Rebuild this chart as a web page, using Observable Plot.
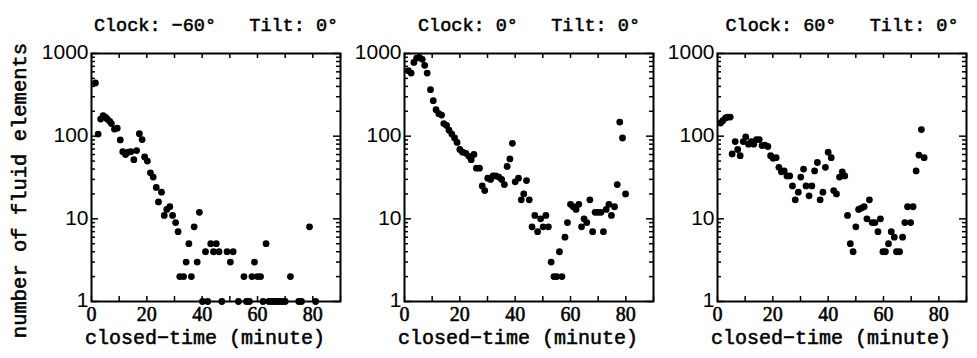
<!DOCTYPE html>
<html>
<head>
<meta charset="utf-8">
<script src="https://cdn.jsdelivr.net/npm/d3@7"></script>
<script src="https://cdn.jsdelivr.net/npm/@observablehq/plot@0.6"></script>
<style>
  html, body { margin: 0; padding: 0; background: #fff; }
  #chart { position: relative; width: 977px; height: 358px; overflow: hidden; }
  #chart svg { position: absolute; left: 0; top: 0; }
</style>
</head>
<body>
<div id="chart"></div>
<script>
// ---- Titles / labels ----
const panelTitles = ["Clock: \u221260\u00b0\u00a0\u00a0\u00a0Tilt: 0\u00b0", "Clock: 0\u00b0\u00a0\u00a0\u00a0Tilt: 0\u00b0", "Clock: 60\u00b0\u00a0\u00a0\u00a0Tilt: 0\u00b0"];
const xTitle = "closed\u2212time (minute)";
const yTitle = "number of fluid elements";

// ---- Tick values ----
const xTickMarks = [0, 10, 20, 30, 40, 50, 60, 70, 80, 90];
const xTickLabels = [0, 20, 40, 60, 80];
const yMajorTicks = [1, 10, 100, 1000];
const yMinorTicks = [2, 3, 4, 5, 6, 7, 8, 9, 20, 30, 40, 50, 60, 70, 80, 90, 200, 300, 400, 500, 600, 700, 800, 900];

// ---- Panel 1: Clock -60 ----
const time1 = [1.4, 2.4, 3.3, 4.2, 5.1, 5.7, 6.6, 7.2, 8.3, 9.3, 10.4, 11.3, 12.3, 13.3, 14.2, 15.3, 16.3, 17.3, 18.3, 19.2, 20.2, 21.3, 22.3, 23.4, 24.2, 25.3, 26.3, 27.2, 28.3, 29.3, 30.4, 31.3, 31.9, 33.3, 34.2, 35.2, 36.1, 37.1, 38.2, 39, 40.1, 41.2, 42, 43.1, 44.1, 45.1, 46.1, 47.1, 49, 50.2, 51.2, 53.1, 55.1, 56, 57.1, 58, 58.9, 60, 61.1, 62, 63.1, 64.1, 65.1, 66, 67, 68, 69, 70, 71.9, 74.9, 75.9, 78.8, 81];
const count1 = [440, 106, 161, 177, 169, 161, 151, 142, 122, 125, 90, 65, 60, 64, 65, 52, 67, 107, 91, 56, 50, 36, 32, 24, 16, 21, 11, 13, 14, 11, 9, 7, 2, 2, 3, 5, 2, 8, 3, 12, 1, 4, 1, 5, 4, 5, 4, 1, 4, 3, 4, 1, 2, 1, 1, 2, 3, 2, 2, 1, 5, 1, 1, 1, 1, 1, 1, 1, 2, 1, 1, 8, 1];

// ---- Panel 2: Clock 0 ----
const time2 = [1.4, 2.4, 3.4, 4.4, 5.4, 6.4, 7.3, 8.2, 9.4, 10.4, 11.4, 12.4, 13.4, 14.2, 15.2, 16.1, 17.1, 18.1, 19, 20, 21, 22.2, 23.3, 24.1, 25.1, 26, 27.1, 28.1, 29, 30.1, 31.1, 32, 33, 34.1, 35.1, 36.1, 37.1, 38.1, 39, 40, 41.2, 42.2, 43.1, 44.1, 45.1, 46.1, 47.1, 48.1, 49.2, 50.1, 51.1, 52, 53, 54, 55, 56, 56.9, 58, 58.9, 60, 61, 62, 63, 64, 64.9, 65.9, 67, 68, 68.9, 69.9, 71, 71.9, 72.9, 73.9, 74.8, 75.9, 76.9, 77.8, 78.8, 79.9];
const count2 = [620, 580, 780, 880, 900, 850, 720, 580, 365, 269, 209, 187, 180, 142, 135, 118, 106, 95, 84, 69, 64, 62, 57, 52, 60, 41, 41, 25, 22, 31, 30, 33, 33, 32, 30, 26, 43, 53, 82, 28, 31, 17, 20, 29, 17, 8, 11, 7, 10, 8, 11, 8, 3, 2, 2, 4, 2, 6, 9, 15, 14, 13, 15, 8, 10, 9, 17, 7, 12, 12, 12, 7, 13, 15, 11, 14, 26, 148, 95, 20];

// ---- Panel 3: Clock 60 ----
const time3 = [1.1, 1.9, 2.9, 3.7, 4.6, 5.3, 6.4, 7.3, 8.2, 9.3, 10.2, 11.2, 12.2, 13.1, 14.1, 15.1, 16.1, 17.1, 18.2, 19.2, 20.1, 21.2, 22.2, 23.1, 24.1, 25.1, 26.1, 27.1, 28.1, 29.2, 30.1, 31.1, 32, 33.1, 34.1, 35.1, 36.1, 37.1, 38.1, 39, 40, 41.1, 42, 43, 44.1, 45.1, 46, 47, 48, 49, 50, 51, 52, 53, 54, 54.9, 55.9, 56.9, 58, 58.9, 59.8, 60.7, 61.8, 62.8, 63.9, 64.7, 65.8, 66.9, 67.7, 68.7, 69.8, 70.7, 71.8, 72.8, 73.7, 74.7];
const count3 = [144, 154, 166, 170, 170, 61, 86, 69, 58, 86, 98, 80, 86, 80, 91, 91, 77, 78, 75, 58, 54, 55, 42, 37, 38, 33, 33, 25, 17, 21, 32, 40, 25, 19, 25, 38, 48, 17, 21, 42, 64, 55, 22, 20, 32, 37, 33, 11, 5, 4, 8, 13, 13.5, 14, 10, 17, 9, 9, 7, 10, 4, 4, 5, 7, 6, 4, 4, 6, 9, 14, 9, 14, 38, 59, 120, 55];

const series = [[time1, count1], [time2, count2], [time3, count3]];

// ---- Layout ----
const W = 977, H = 358;
const mTop = 53, mBottom = 57;
const panelW = 249;
const panelLeft = [91, 404, 717];
const panelH = H - mTop - mBottom;

const monoFont = "'Liberation Mono', 'DejaVu Sans Mono', monospace";
const sansFont = "'Liberation Sans', Arial, sans-serif";
const serifFont = "'Liberation Serif', 'DejaVu Serif', serif";
// medium-weight look: regular glyphs with a thin outline
const medium = {fill: "black", stroke: "black", strokeWidth: 0.55};

const chart = document.getElementById("chart");

series.forEach(([ts, ns], i) => {
  const rows = ts.map((t, k) => ({t, n: ns[k]}));
  const left = panelLeft[i];
  const marks = [
    Plot.frame({stroke: "black", strokeWidth: 2}),
    // x ticks (inward) bottom and top
    Plot.tickX(xTickMarks, {x: d => d, insetTop: panelH - 5, stroke: "black", strokeWidth: 1.5}),
    Plot.tickX(xTickMarks, {x: d => d, insetBottom: panelH - 5, stroke: "black", strokeWidth: 1.5}),
    // y ticks (inward) left and right
    Plot.tickY(yMajorTicks, {y: d => d, insetRight: panelW - 7, stroke: "black", strokeWidth: 1.5}),
    Plot.tickY(yMinorTicks, {y: d => d, insetRight: panelW - 4, stroke: "black", strokeWidth: 1.5}),
    Plot.tickY(yMajorTicks, {y: d => d, insetLeft: panelW - 7, stroke: "black", strokeWidth: 1.5}),
    Plot.tickY(yMinorTicks, {y: d => d, insetLeft: panelW - 4, stroke: "black", strokeWidth: 1.5}),
    // tick labels
    Plot.text(yMajorTicks, {y: d => d, text: d => String(d), frameAnchor: "left", dx: -3, dy: -1, textAnchor: "end", fontFamily: sansFont, fontSize: 21, fill: "black"}),
    Plot.text(xTickLabels, {x: d => d, text: d => String(d), frameAnchor: "bottom", dy: 19, fontFamily: serifFont, fontSize: 20, ...medium}),
    // axis title and panel title
    Plot.text([xTitle], {text: d => d, frameAnchor: "bottom", dx: -11, dy: 42, fontFamily: monoFont, fontSize: 20, ...medium}),
    Plot.text([panelTitles[i]], {text: d => d, frameAnchor: "top", dy: -36, fontFamily: monoFont, fontSize: 18.5, ...medium}),
    // data
    Plot.dot(rows, {x: "t", y: "n", r: 3.4, fill: "black", stroke: "none"})
  ];
  if (i === 0) {
    marks.push(Plot.text([yTitle], {text: d => d, frameAnchor: "left", textAnchor: "middle", dx: -(left - 19), dy: 13, rotate: -90, fontFamily: monoFont, fontSize: 20.5, ...medium}));
  }
  const svg = Plot.plot({
    width: W,
    height: H,
    marginTop: mTop,
    marginBottom: mBottom,
    marginLeft: left,
    marginRight: W - left - panelW,
    x: {domain: [0, 90], axis: null},
    y: {type: "log", domain: [1, 1000], axis: null},
    style: {background: "transparent", overflow: "visible", color: "black"},
    marks
  });
  chart.appendChild(svg);
});
</script>
</body>
</html>
